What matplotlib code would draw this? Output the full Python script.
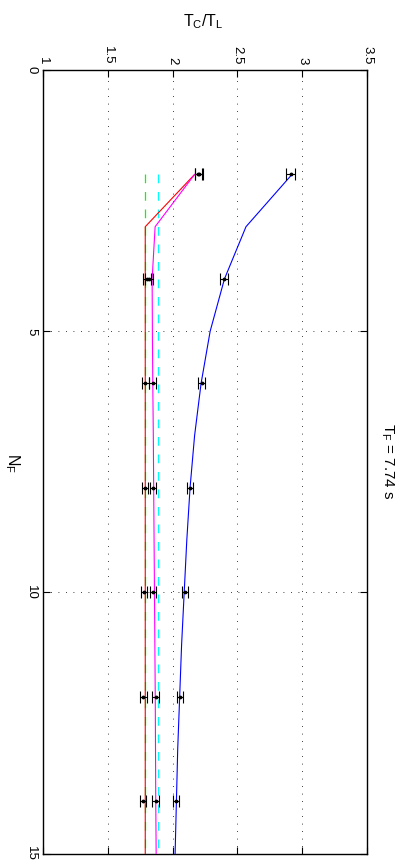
import matplotlib
matplotlib.use("Agg")
import matplotlib.pyplot as plt
import numpy as np

plt.rcParams['font.family'] = ['Liberation Sans', 'DejaVu Sans']
plt.rcParams['mathtext.fontset'] = 'custom'
plt.rcParams['mathtext.rm'] = 'Liberation Sans'
plt.rcParams['mathtext.it'] = 'Liberation Sans:italic'

# model curves, N_F = 2..15
n_model = [2, 3, 4, 5, 6, 7, 8, 9, 10, 11, 12, 13, 14, 15]
tc_blue = [2.92, 2.566, 2.40, 2.29, 2.22, 2.17, 2.135, 2.11, 2.09, 2.07, 2.055, 2.04, 2.03, 2.02]
tc_red = [2.17, 1.79, 1.79, 1.79, 1.79, 1.79, 1.79, 1.79, 1.79, 1.79, 1.79, 1.79, 1.79, 1.79]
tc_magenta = [2.17, 1.866, 1.843, 1.845, 1.848, 1.852, 1.855, 1.858, 1.861, 1.864, 1.867, 1.869, 1.871, 1.874]

# reference levels
n_ref = [2, 15]
level_green = 1.79
level_cyan = 1.887

# measured points with errors
n_meas = [2, 4, 6, 8, 10, 12, 14]
meas_a = [2.20, 1.805, 1.79, 1.787, 1.779, 1.776, 1.774]
meas_b = [2.205, 1.82, 1.846, 1.851, 1.851, 1.869, 1.869]
meas_c = [2.91, 2.397, 2.225, 2.136, 2.095, 2.056, 2.025]
err_a = [0.03, 0.03, 0.025, 0.025, 0.025, 0.025, 0.025]
err_b = [0.03, 0.03, 0.025, 0.025, 0.025, 0.025, 0.025]
err_c = [0.032, 0.03, 0.025, 0.025, 0.025, 0.025, 0.025]

x_ticks = [1, 1.5, 2, 2.5, 3, 3.5]
x_ticklabels = ['1', '1.5', '2', '2.5', '3', '3.5']
y_ticks = [0, 5, 10, 15]
y_ticklabels = ['0', '5', '10', '15']

fig = plt.figure(figsize=(4.04, 8.68), dpi=100)
ax = fig.add_axes([0.1057, 0.0165, 0.8033, 0.9029])

ax.plot([level_green] * 2, n_ref, color='#00ff00', lw=0.9, dashes=(7, 7), zorder=2)
ax.plot([level_cyan] * 2, n_ref, color='#00ffff', lw=0.9, dashes=(7, 7), zorder=2)
ax.plot(tc_red, n_model, color='#ff0000', lw=0.8, zorder=3)
ax.plot(tc_magenta, n_model, color='#ff00ff', lw=0.8, zorder=3)
ax.plot(tc_blue, n_model, color='#0000ff', lw=0.8, zorder=3)

for vals, errs in [(meas_a, err_a), (meas_b, err_b), (meas_c, err_c)]:
    ax.errorbar(vals, n_meas, xerr=errs, fmt='.', color='black', ms=3.5,
                elinewidth=0.8, capsize=4.3, capthick=0.8, zorder=4)

ax.set_xlim(1, 3.5)
ax.set_ylim(15, 0)
ax.set_xticks(x_ticks)
ax.set_xticklabels(x_ticklabels, rotation=-90, va='bottom', ha='center', fontsize=9.5)
ax.set_yticks(y_ticks)
ax.set_yticklabels(y_ticklabels, rotation=-90, va='center', ha='right', fontsize=9.5)
ax.xaxis.tick_top()
ax.tick_params(direction='in', length=5, width=0.8, top=True, bottom=True,
               left=True, right=True, labeltop=True, labelbottom=False, pad=4)
ax.grid(True, color='black', linestyle=(0, (1, 8)), linewidth=0.6)
for s in ax.spines.values():
    s.set_linewidth(1.0)

fig.text(203 / 404, 1 - 22 / 868, r'$\mathrm{T_C/T_L}$', ha='center', va='center', fontsize=11.5)
fig.text(12 / 404, 1 - 463 / 868, r'$\mathrm{N_F}$', ha='center', va='center',
         rotation=-90, fontsize=11.5)
fig.text(387 / 404, 1 - 461 / 868, r'$\mathrm{T_F}$ = 7.74 s', ha='center', va='center',
         rotation=-90, fontsize=11)

fig.savefig('out.png', dpi=100)
